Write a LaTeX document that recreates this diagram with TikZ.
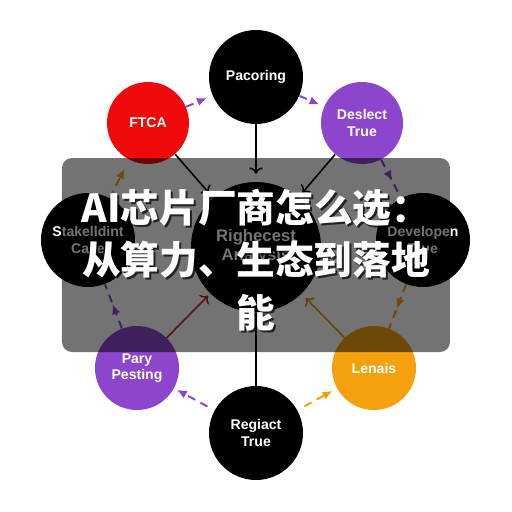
\documentclass[tikz,border=0pt]{standalone}
\usepackage{fontspec}
\setmainfont{Liberation Sans}
\newfontfamily\cjk{Noto Sans CJK SC}
\usepackage{xcolor}
\usetikzlibrary{arrows.meta,decorations.markings}

\definecolor{chipred}{HTML}{EE0A0A}
\definecolor{chippurple}{HTML}{8C45CC}
\definecolor{chiporange}{HTML}{F5A00F}
\definecolor{linkred}{HTML}{C42A2A}
\definecolor{linkgold}{HTML}{D99A12}

\begin{document}
\begin{tikzpicture}[every node/.style={transform shape},
  bubble/.style={circle, draw=none, text=white, align=center, inner sep=0pt, font=\fontsize{8}{9.5}\selectfont\bfseries},
  link/.style={->, line width=0.9pt},
  loopdash/.style={line width=1.1pt, dash pattern=on 0.16cm off 0.12cm, -{Latex[length=0.2cm,width=0.17cm]}},
  loopmid/.style={line width=1.1pt, dash pattern=on 0.16cm off 0.12cm, postaction={decorate},
    decoration={markings, mark=at position 0.55 with {\arrow{Latex[length=0.2cm,width=0.17cm]}}}},
  headline/.style={align=center, font=\cjk\bfseries\fontsize{22}{30}\selectfont}]
\fill[white] (-5.12,-5.12) rectangle (5.12,5.12);
\useasboundingbox (-5.12,-5.12) rectangle (5.12,5.12);

\node[bubble, fill=black, minimum size=1.88cm] (paco) at (0,3.58) {Pacoring};
\node[bubble, fill=chipred, minimum size=1.64cm] (ftca) at (-2.16,2.66) {FTCA};
\node[bubble, fill=chippurple, minimum size=1.64cm] (deslect) at (2.12,2.66) {Deslect\\True};
\node[bubble, fill=black, minimum size=1.88cm] (stake) at (-3.36,0.32) {Stakelldint\\Case};
\node[bubble, fill=black, minimum size=2.6cm, font=\fontsize{9.5}{11}\selectfont\bfseries] (core) at (0,0.18) {Righecest\\Analysis};
\node[bubble, fill=black, minimum size=1.88cm] (develop) at (3.34,0.32) {Developen\\True};
\node[bubble, fill=chippurple, minimum size=1.68cm] (pary) at (-2.38,-2.24) {Pary\\Pesting};
\node[bubble, fill=chiporange, minimum size=1.68cm] (lenais) at (2.36,-2.24) {Lenais};
\node[bubble, fill=black, minimum size=1.88cm] (regiact) at (0,-3.54) {Regiact\\True};

\draw[link, shorten >=0.16cm] (paco) -- (core);
\draw[link, shorten >=0.12cm] (ftca) -- (core);
\draw[link, shorten >=0.12cm] (deslect) -- (core);
\draw[link, linkred, shorten >=0.06cm] (pary) -- (core);
\draw[link, linkgold, shorten >=0.12cm] (lenais) -- (core);
\draw[link] (regiact) -- (core);

\draw[loopdash, chippurple, shorten >=0.12cm] (ftca) -- (paco);
\draw[loopdash, chippurple, shorten >=0.1cm] (paco) -- (deslect);
\draw[loopmid, chippurple] (deslect) -- (develop);
\draw[loopmid, chiporange] (develop) -- (lenais);
\draw[loopdash, chiporange, shorten <=0.16cm, shorten >=0.1cm] (regiact) -- (lenais);
\draw[loopdash, chippurple, shorten <=0.16cm, shorten >=0.06cm] (regiact) -- (pary);
\draw[loopmid, chippurple] (pary) -- (stake);
\draw[loopdash, chiporange, shorten >=0.2cm] (stake) -- (ftca);

\node[fill=black, opacity=0.55, rounded corners=0.2cm, minimum width=7.76cm, minimum height=3.88cm] (veil) at (0,0.02) {};
\node[headline, text=black, opacity=0.7] (titleshade) at (0.04,-0.12) {AI芯片厂商怎么选：\\从算力、生态到落地\\能};
\node[headline, text=white] (title) at (0,-0.08) {AI芯片厂商怎么选：\\从算力、生态到落地\\能};
\end{tikzpicture}
\end{document}
